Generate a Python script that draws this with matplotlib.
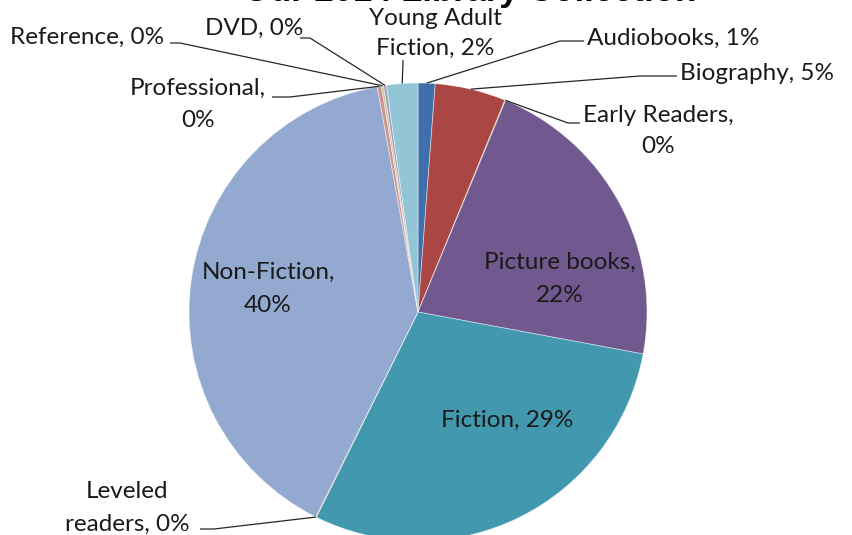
import numpy as np
import matplotlib
matplotlib.use("Agg")
import matplotlib.pyplot as plt

categories = ["Audiobooks", "Biography", "Early Readers", "Picture books", "Fiction",
              "Leveled readers", "Non-Fiction", "Professional", "Reference", "DVD",
              "Young Adult Fiction"]
values = [1.2, 5.0, 0.05, 21.7, 29.4, 0.05, 39.8, 0.3, 0.15, 0.2, 2.2]
colors = ["#3F6FAA", "#AA4643", "#89A54E", "#71588F", "#4198AF", "#DB843D",
          "#93A9CF", "#D09392", "#B9CD96", "#A99BBD", "#92C5D6"]
title = "Our 2014 Library Collection"

W, H = 853, 535
fig = plt.figure(figsize=(W / 100, H / 100), dpi=100)
ax = fig.add_axes([0, 0, 1, 1])

cx, cy, R = 418, H - 312, 229
wedges, _ = ax.pie(values, colors=colors, startangle=90, counterclock=False,
                   center=(cx, cy), radius=R, frame=True,
                   wedgeprops=dict(edgecolor=(1, 1, 1, 0.5), linewidth=0.6))
ax.set_xlim(0, W)
ax.set_ylim(0, H)
ax.set_aspect("equal")
ax.axis("off")

FONT = "Lato"
fs = 17.5
tc = "#1a1a1a"

def anchor(i, rr=1.0):
    w = wedges[i]
    a = np.deg2rad((w.theta1 + w.theta2) / 2)
    return cx + R * rr * np.cos(a), cy + R * rr * np.sin(a)

def Y(y):
    return H - y

def pct(i):
    return f"{round(values[i])}%"

# inside labels
inside = [
    (3, [f"{categories[3]},", pct(3)], 560, [262, 295]),
    (4, [f"{categories[4]}, {pct(4)}"], 507, [420]),
    (6, [f"{categories[6]},", pct(6)], 268, [272, 305]),
]
for i, lines, x, ys in inside:
    for line, y in zip(lines, ys):
        ax.text(x, Y(y), line, ha="center", va="center", fontsize=fs, family=FONT, color=tc)

# outside labels: (index, lines, text x, text ys, ha, leader start, elbow)
outside = [
    (0, [f"{categories[0]}, {pct(0)}"], 587, [38], "left", (584, 41), (560, 41)),
    (1, [f"{categories[1]}, {pct(1)}"], 680, [73], "left", (677, 76), (640, 76)),
    (2, ["Early Readers,", pct(2)], 658, [115, 146], "center", (580, 123), (568, 123)),
    (5, ["Leveled", f"readers, {pct(5)}"], 127, [492, 524], "center", (200, 529), (214, 529)),
    (7, ["Professional,", pct(7)], 198, [88, 120], "center", (272, 97), (290, 97)),
    (8, [f"{categories[8]}, {pct(8)}"], 10, [37], "left", (170, 43), (180, 43)),
    (9, [f"{categories[9]}, {pct(9)}"], 205, [28], "left", (300, 38), (310, 38)),
    (10, ["Young Adult", f"Fiction, {pct(10)}"], 435, [18, 48], "center", (403, 60), (403, 62)),
]
for i, lines, x, ys, ha, p0, p1 in outside:
    for line, y in zip(lines, ys):
        ax.text(x, Y(y), line, ha=ha, va="center", fontsize=fs, family=FONT, color=tc)
    ax_, ay_ = anchor(i)
    ax.plot([p0[0], p1[0], ax_], [Y(p0[1]), Y(p1[1]), ay_], color="#262626", lw=0.9,
            solid_capstyle="butt", zorder=5)

ax.text(470, Y(1), title, ha="center", va="baseline", fontsize=25, fontweight="bold",
        family="Liberation Sans", color="black")

fig.savefig("out.png", dpi=100)
